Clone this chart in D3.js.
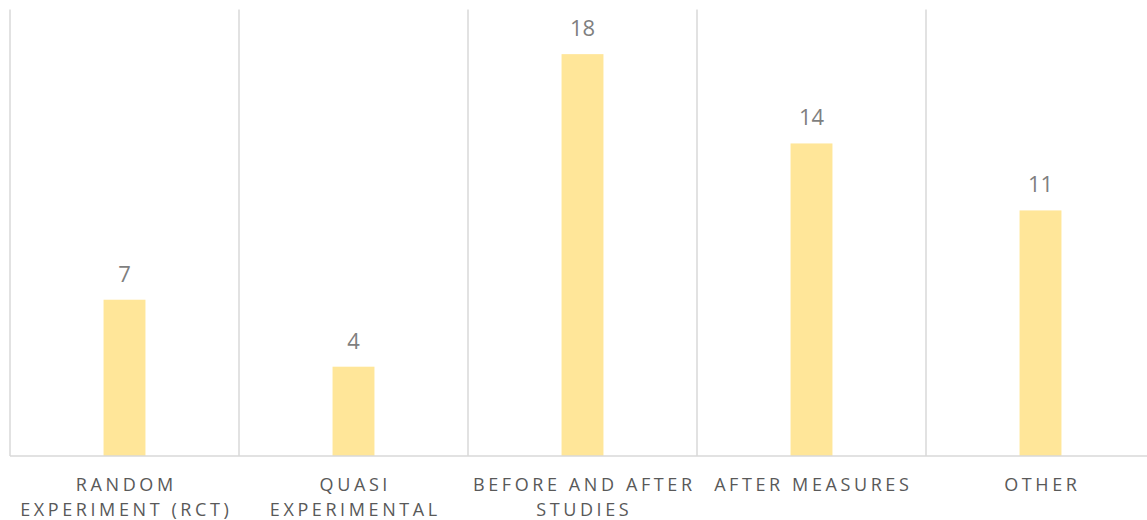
<!DOCTYPE html>
<html>
<head>
<meta charset="utf-8">
<script src="https://cdn.jsdelivr.net/npm/d3@7"></script>
<style>
  html, body { margin: 0; padding: 0; background: #ffffff; }
  svg { display: block; }
</style>
</head>
<body>
<svg id="chart" width="1147" height="520"></svg>
<script>
const categories = ["RANDOM EXPERIMENT (RCT)", "QUASI EXPERIMENTAL", "BEFORE AND AFTER STUDIES", "AFTER MEASURES", "OTHER"];
const labelLines = [["RANDOM", "EXPERIMENT (RCT)"], ["QUASI", "EXPERIMENTAL"], ["BEFORE AND AFTER", "STUDIES"], ["AFTER MEASURES"], ["OTHER"]];
const values = [7, 4, 18, 14, 11];
const yDomain = [0, 20];

(function () {
const svg = d3.select("#chart");
const plotL = 10, plotR = 1155, plotT = 9.5, plotB = 456;

const x = d3.scaleBand().domain(categories).range([plotL, plotR]).paddingInner(0).paddingOuter(0);
const y = d3.scaleLinear().domain(yDomain).range([plotB, plotT]);
const barW = x.bandwidth() * 0.183;

// vertical category gridlines
const edges = categories.map(c => x(c)).concat([x(categories[categories.length - 1]) + x.bandwidth()]);
svg.append("g").selectAll("line").data(edges).join("line")
  .attr("x1", d => d).attr("x2", d => d)
  .attr("y1", y(yDomain[1])).attr("y2", plotB)
  .attr("stroke", "#d9d9d9").attr("stroke-width", 1.5);

// bars
svg.append("g").selectAll("rect").data(values).join("rect")
  .attr("x", (d, i) => x(categories[i]) + x.bandwidth() / 2 - barW / 2)
  .attr("width", barW)
  .attr("y", d => y(d))
  .attr("height", d => plotB - y(d))
  .attr("fill", "#FFE699");

// baseline
svg.append("line")
  .attr("x1", plotL).attr("x2", plotR)
  .attr("y1", plotB).attr("y2", plotB)
  .attr("stroke", "#d9d9d9").attr("stroke-width", 1.5);

// value labels
svg.append("g").selectAll("text").data(values).join("text")
  .attr("x", (d, i) => x(categories[i]) + x.bandwidth() / 2)
  .attr("y", d => y(d) - 18)
  .attr("text-anchor", "middle")
  .attr("font-family", "'Open Sans', sans-serif")
  .attr("font-size", 22)
  .attr("fill", "#7f7f7f")
  .text(d => d);

// category labels
const lab = svg.append("g").selectAll("text").data(categories).join("text")
  .attr("text-anchor", "middle")
  .attr("font-family", "'Open Sans', sans-serif")
  .attr("font-size", 18)
  .attr("letter-spacing", "3.6px")
  .attr("fill", "#595959");
lab.each(function(c, i) {
  const cx = x(c) + x.bandwidth() / 2 + 1.8;
  d3.select(this).selectAll("tspan").data(labelLines[i]).join("tspan")
    .attr("x", cx)
    .attr("y", (l, j) => 490.5 + j * 25)
    .text(l => l);
});
})();
</script>
</body>
</html>
